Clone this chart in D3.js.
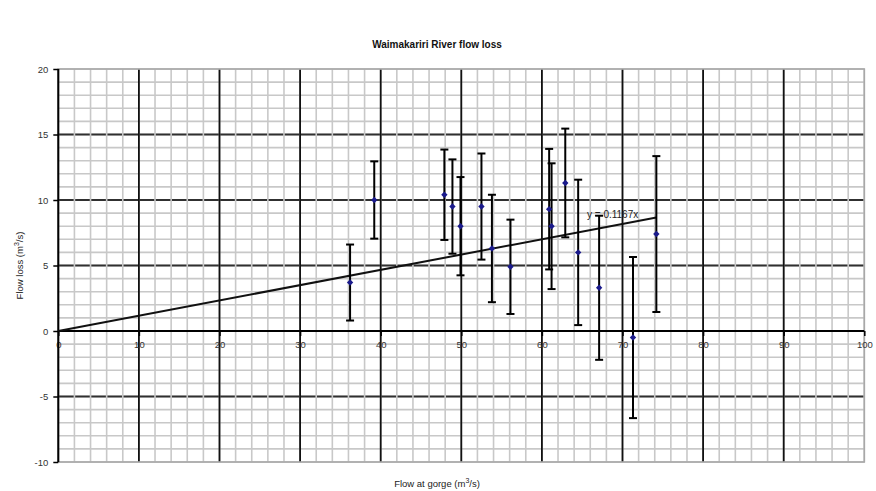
<!DOCTYPE html>
<html>
<head>
<meta charset="utf-8">
<script src="https://cdn.jsdelivr.net/npm/d3@7"></script>
<style>
  html, body { margin: 0; padding: 0; background: #fff; }
  svg { display: block; font-family: Arial, "Liberation Sans", sans-serif; }
</style>
</head>
<body>
<svg id="chart" width="876" height="491"></svg>
<script>
// Waimakariri River: flow at gorge vs. flow loss, with error bars and a trendline through the origin
const flowGorge = [36.2, 39.2, 47.9, 48.9, 49.9, 52.5, 53.8, 56.1, 60.9, 61.2, 62.9, 64.5, 67.1, 71.3, 74.2];
const flowLoss  = [3.7, 10.0, 10.4, 9.5, 8.0, 9.5, 6.3, 4.9, 9.3, 8.0, 11.3, 6.0, 3.3, -0.5, 7.4];
const lossError = [2.9, 2.95, 3.45, 3.6, 3.75, 4.05, 4.1, 3.6, 4.6, 4.8, 4.15, 5.55, 5.5, 6.15, 5.95];

const trendSlope = 0.1167;
const trendLabel = "y = 0.1167x";

const xTicks = [0, 10, 20, 30, 40, 50, 60, 70, 80, 90, 100];
const yTicks = [-10, -5, 0, 5, 10, 15, 20];
const xMinor = d3.range(0, 101, 2);
const yMinor = d3.range(-10, 21, 1);

const chartTitle = "Waimakariri River flow loss";
const xTitle = "Flow at gorge (m";
const yTitle = "Flow loss (m";

const svg = d3.select("#chart");
const x = d3.scaleLinear().domain([0, 100]).range([58.3, 864.3]);
const y = d3.scaleLinear().domain([-10, 20]).range([462, 69]);

const [x0, x1] = x.range();
const [yb, yt] = y.range();

const grid = svg.append("g");
// minor horizontal
grid.selectAll(".hmin").data(yMinor).join("line")
  .attr("x1", x0).attr("x2", x1).attr("y1", d => y(d)).attr("y2", d => y(d))
  .attr("stroke", "#c8c8c8").attr("stroke-width", 1.6);
// major horizontal
grid.selectAll(".hmaj").data(yTicks.filter(d => d !== 0 && d !== 20 && d !== -10)).join("line")
  .attr("x1", x0).attr("x2", x1).attr("y1", d => y(d)).attr("y2", d => y(d))
  .attr("stroke", "#303030").attr("stroke-width", 2);
// minor vertical
grid.selectAll(".vmin").data(xMinor).join("line")
  .attr("x1", d => x(d)).attr("x2", d => x(d)).attr("y1", yb).attr("y2", yt)
  .attr("stroke", "#c8c8c8").attr("stroke-width", 1.6);
// major vertical
grid.selectAll(".vmaj").data(xTicks.filter(d => d !== 0 && d !== 100)).join("line")
  .attr("x1", d => x(d)).attr("x2", d => x(d)).attr("y1", yb).attr("y2", yt)
  .attr("stroke", "#111").attr("stroke-width", 1.8);

// plot border
svg.append("rect")
  .attr("x", x0).attr("y", yt).attr("width", x1 - x0).attr("height", yb - yt)
  .attr("fill", "none").attr("stroke", "#a8a8a8").attr("stroke-width", 1.6);

// axes
const fmt = d => String(d);
const xAxis = d3.axisBottom(x).tickValues(xTicks).tickFormat(fmt).tickSize(5).tickPadding(5);
const gx = svg.append("g").attr("transform", `translate(0,${y(0)})`).call(xAxis);
const yAxis = d3.axisLeft(y).tickValues(yTicks).tickFormat(fmt).tickSize(5).tickPadding(5);
const gy = svg.append("g").attr("transform", `translate(${x(0)},0)`).call(yAxis);
[gx, gy].forEach(g => {
  g.select(".domain").attr("stroke", "#000").attr("stroke-width", 2);
  g.selectAll(".tick line").attr("stroke", "#000").attr("stroke-width", 1.5);
  g.selectAll(".tick text").attr("fill", "#333").style("font-size", "9.5px")
    .style("font-family", "Arial, 'Liberation Sans', sans-serif");
});
gx.select(".domain").attr("d", `M${x0},0H${x1}`);
gy.select(".domain").attr("d", `M0,${yb}V${yt}`);

// trendline through the origin
const maxX = d3.max(flowGorge);
svg.append("line")
  .attr("x1", x(0)).attr("y1", y(0))
  .attr("x2", x(maxX)).attr("y2", y(trendSlope * maxX))
  .attr("stroke", "#111").attr("stroke-width", 2);

svg.append("text")
  .attr("x", 587).attr("y", 218)
  .attr("fill", "#222").style("font-size", "10px")
  .text(trendLabel);

// error bars
const pts = flowGorge.map((g, i) => ({ g, l: flowLoss[i], e: lossError[i] }));
const eb = svg.append("g").attr("stroke", "#000").attr("stroke-width", 2);
eb.selectAll(".bar").data(pts).join("line")
  .attr("x1", d => x(d.g)).attr("x2", d => x(d.g))
  .attr("y1", d => y(d.l - d.e)).attr("y2", d => y(d.l + d.e));
eb.selectAll(".capTop").data(pts).join("line")
  .attr("x1", d => x(d.g) - 4).attr("x2", d => x(d.g) + 4)
  .attr("y1", d => y(d.l + d.e)).attr("y2", d => y(d.l + d.e));
eb.selectAll(".capBot").data(pts).join("line")
  .attr("x1", d => x(d.g) - 4).attr("x2", d => x(d.g) + 4)
  .attr("y1", d => y(d.l - d.e)).attr("y2", d => y(d.l - d.e));

// markers
svg.append("g").selectAll("path").data(pts).join("path")
  .attr("d", d3.symbol(d3.symbolDiamond2, 26))
  .attr("transform", d => `translate(${x(d.g)},${y(d.l)})`)
  .attr("fill", "#1a1a8c");

// titles
svg.append("text")
  .attr("x", 437).attr("y", 48).attr("text-anchor", "middle")
  .attr("fill", "#111").style("font-size", "10px").style("font-weight", "bold")
  .text(chartTitle);

const xt = svg.append("text")
  .attr("x", 437).attr("y", 487).attr("text-anchor", "middle")
  .attr("fill", "#222").style("font-size", "9.5px");
xt.append("tspan").text(xTitle);
xt.append("tspan").attr("dy", -4).style("font-size", "7px").text("3");
xt.append("tspan").attr("dy", 4).text("/s)");

const yt2 = svg.append("text")
  .attr("transform", `translate(23,${(yb + yt) / 2}) rotate(-90)`)
  .attr("text-anchor", "middle")
  .attr("fill", "#222").style("font-size", "9.5px");
yt2.append("tspan").text(yTitle);
yt2.append("tspan").attr("dy", -4).style("font-size", "7px").text("3");
yt2.append("tspan").attr("dy", 4).text("/s)");
</script>
</body>
</html>
